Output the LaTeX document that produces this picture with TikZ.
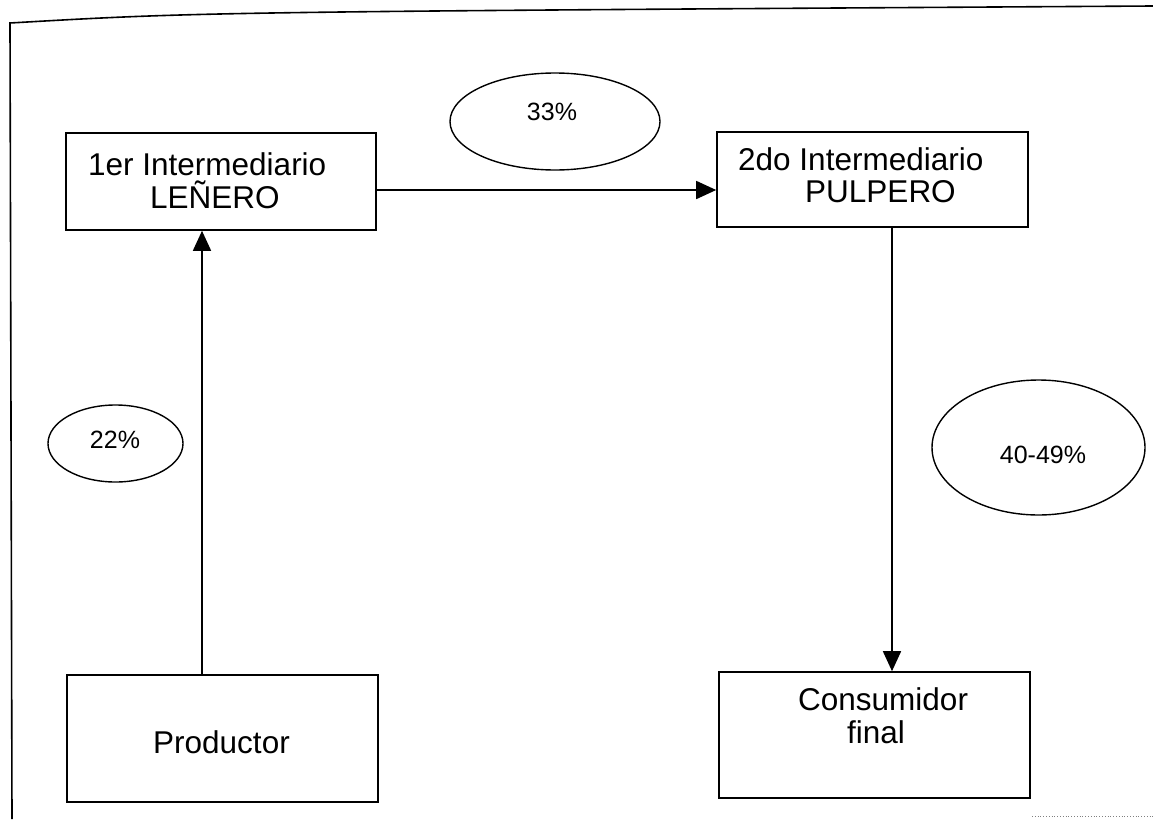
\documentclass[tikz,border=0pt]{standalone}
\usepackage{fontspec}
\setmainfont{Liberation Sans}
\usetikzlibrary{arrows.meta,shapes.geometric,calc}
\tikzset{
  box/.style={draw=black, line width=1.6pt, inner sep=0pt, rectangle},
  oval/.style={draw=black, line width=1.4pt, inner sep=0pt, ellipse},
  boxtxt/.style={inner sep=0pt, font=\fontsize{31.5}{36}\selectfont},
  pcttxt/.style={inner sep=0pt, font=\fontsize{25}{28}\selectfont},
  arr/.style={draw=black, line width=1.6pt, -{Triangle[length=20pt,width=18pt]}},
  frame/.style={draw=black, line width=1.6pt}
}
\begin{document}
\begin{tikzpicture}[x=1pt,y=-1pt]
\useasboundingbox (0,0) rectangle (1153,819);
% page frame (scanned border)
\draw[frame] (12,819) -- (10,23) .. controls (200,12) .. (1153,6);
\draw[gray, line width=0.8pt, dotted] (1032,816) -- (1153,816);

% boxes
\node[box, minimum width=310pt, minimum height=97pt] (box1) at (221,181.5) {};
\node[box, minimum width=311pt, minimum height=95pt] (box2) at (872.5,179.5) {};
\node[box, minimum width=311pt, minimum height=127pt] (prod) at (222.5,738.5) {};
\node[box, minimum width=311pt, minimum height=126pt] (cons) at (874.5,735) {};

% box texts
\node[boxtxt, anchor=base west] (t1a) at (88,175) {1er Intermediario};
\node[boxtxt, anchor=base west] (t1b) at (150,208) {LEÑERO};
\node[boxtxt, anchor=base west] (t2a) at (738,170) {2do Intermediario};
\node[boxtxt, anchor=base west] (t2b) at (805,202) {PULPERO};
\node[boxtxt, anchor=base west] (t3) at (153,753) {Productor};
\node[boxtxt, anchor=base west] (t4a) at (798,710) {Consumidor};
\node[boxtxt, anchor=base west] (t4b) at (847,743) {final};

% ellipses
\node[oval, minimum width=210pt, minimum height=97pt] (e33) at (555,121.5) {};
\node[oval, minimum width=135pt, minimum height=77pt] (e22) at (115.5,443.5) {};
\node[oval, minimum width=213pt, minimum height=135pt] (e40) at (1038.5,447.5) {};
\node[pcttxt, anchor=base] (p33) at (552,120) {33\%};
\node[pcttxt, anchor=base] (p22) at (115,448) {22\%};
\node[pcttxt, anchor=base] (p40) at (1043,463) {40-49\%};

% connectors
\draw[arr] ([xshift=-20.5pt]prod.north) -- ([xshift=-20.5pt]prod.north |- box1.south);
\draw[arr] ([yshift=-8.5pt]box1.east) -- ([yshift=-8.5pt]box1.east -| box2.west);
\draw[arr] ([xshift=19.5pt]box2.south) -- ([xshift=19.5pt]box2.south |- cons.north);
\end{tikzpicture}
\end{document}
